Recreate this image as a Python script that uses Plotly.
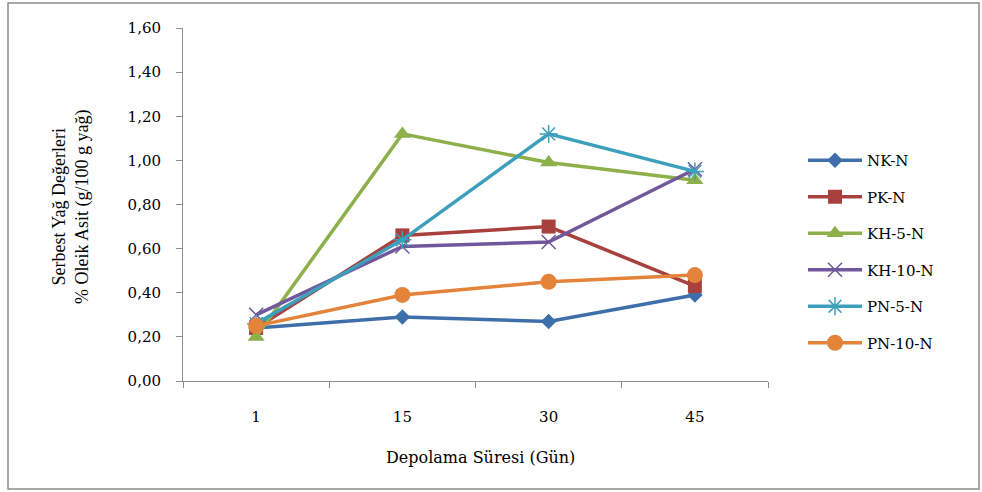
import plotly.graph_objects as go

# Storage days (categorical x axis)
days = ["1", "15", "30", "45"]

# Free fatty acid values, % oleic acid (g/100 g oil)
nk_n = [0.24, 0.29, 0.27, 0.39]
pk_n = [0.24, 0.66, 0.70, 0.43]
kh5_n = [0.20, 1.12, 0.99, 0.91]
kh10_n = [0.30, 0.61, 0.63, 0.96]
pn5_n = [0.26, 0.64, 1.12, 0.95]
pn10_n = [0.25, 0.39, 0.45, 0.48]

series = [
    ("NK-N", nk_n, "#3F6FAA", dict(symbol="diamond", size=12, color="#3F6FAA")),
    ("PK-N", pk_n, "#A8413E", dict(symbol="square", size=14, color="#A8413E")),
    ("KH-5-N", kh5_n, "#8DB04B", dict(symbol="triangle-up", size=15, color="#8DB04B")),
    ("KH-10-N", kh10_n, "#71579B", dict(symbol="x-thin-open", size=14,
                                        line=dict(color="#B3A3CC", width=1.5))),
    ("PN-5-N", pn5_n, "#3C9FBB", dict(symbol="asterisk-open", size=15,
                                      line=dict(color="#8FCBDD", width=1.5))),
    ("PN-10-N", pn10_n, "#E3843A", dict(symbol="circle", size=16, color="#E3843A")),
]

serif = "Liberation Serif, Times New Roman, serif"
wide_serif = "DejaVu Serif, serif"

fig = go.Figure()
for i, (name, vals, color, marker) in enumerate(series):
    fig.add_trace(go.Scatter(
        x=days, y=vals, name=name, mode="lines+markers",
        line=dict(color=color, width=3.5),
        marker=marker,
        legendgroup=f"g{i}",
    ))

L, R, T, B = 183, 214, 28, 111
W, H = 982, 492
pw, ph = W - L - R, H - T - B

fig.update_layout(
    width=W, height=H,
    margin=dict(l=L, r=R, t=T, b=B),
    paper_bgcolor="white", plot_bgcolor="white",
    separators=",.",
    font=dict(family=wide_serif, size=15, color="black"),
    showlegend=True,
    legend=dict(
        x=(803 - L) / pw, y=(H - B - 144) / ph, xanchor="left", yanchor="top",
        font=dict(family=wide_serif, size=15, color="black"),
        itemwidth=54, tracegroupgap=14, bgcolor="rgba(0,0,0,0)",
    ),
    xaxis=dict(
        type="category", range=[-0.5, 3.5],
        showline=True, linecolor="#8C8C8C", linewidth=1,
        ticks="outside", ticklen=6, tickcolor="#8C8C8C", tickson="boundaries",
        ticklabelstandoff=22,
        showgrid=False, zeroline=False,
        tickfont=dict(family=wide_serif, size=15),
    ),
    yaxis=dict(
        range=[0, 1.6], dtick=0.2, tickformat=".2f",
        showline=True, linecolor="#8C8C8C", linewidth=1,
        ticks="outside", ticklen=6, tickcolor="#8C8C8C",
        ticklabelstandoff=12,
        showgrid=False, zeroline=False,
        tickfont=dict(family=wide_serif, size=15),
    ),
    annotations=[
        dict(text="Serbest Yağ Değerleri<br>% Oleik Asit (g/100 g yağ)",
             textangle=-90, showarrow=False,
             xref="paper", yref="paper",
             x=(71 - L) / pw, y=(H - B - 207) / ph,
             xanchor="center", yanchor="middle",
             font=dict(family=serif, size=18)),
        dict(text="Depolama Süresi (Gün)",
             showarrow=False, xref="paper", yref="paper",
             x=(480 - L) / pw, y=(H - B - 457) / ph,
             xanchor="center", yanchor="middle",
             font=dict(family=wide_serif, size=16)),
    ],
    shapes=[
        dict(type="rect", xref="paper", yref="paper",
             x0=(8 - L) / pw, x1=(979 - L) / pw,
             y0=(H - B - 489) / ph, y1=(H - B - 3) / ph,
             line=dict(color="#8C8C8C", width=1.5), fillcolor="rgba(0,0,0,0)"),
    ],
)

fig.write_html("out.html")
